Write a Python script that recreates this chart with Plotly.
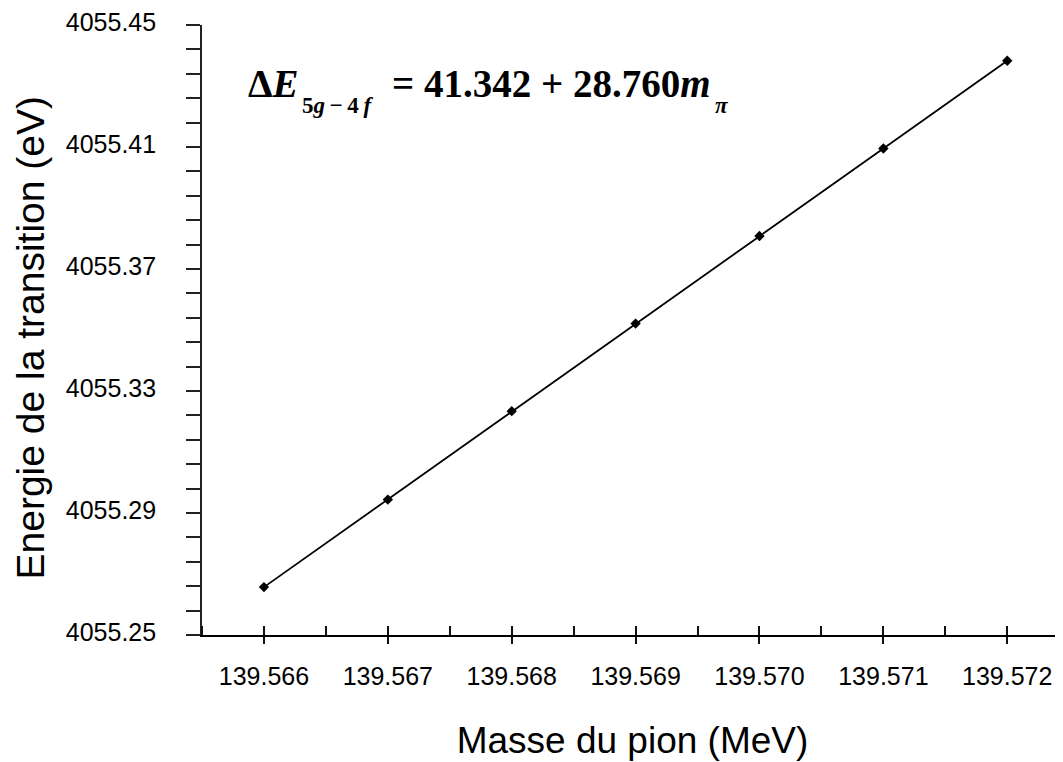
import plotly.graph_objects as go

# Data
masse = [139.566, 139.567, 139.568, 139.569, 139.570, 139.571, 139.572]
energie = [4055.2657, 4055.2944, 4055.3234, 4055.3521, 4055.3808, 4055.4095, 4055.4383]
x_ticks = [139.566, 139.567, 139.568, 139.569, 139.570, 139.571, 139.572]
x_labels = ["139.566", "139.567", "139.568", "139.569", "139.570", "139.571", "139.572"]
y_ticks = [4055.25, 4055.29, 4055.33, 4055.37, 4055.41, 4055.45]
y_labels = ["4055.25", "4055.29", "4055.33", "4055.37", "4055.41", "4055.45"]

x_range = [139.5655, 139.57245]
y_range = [4055.25, 4055.45]

# page body has an 8px margin: figure is offset by (8, 8)
OFF = 8
W, H = 1063 - OFF, 762 - OFF
L, R, T = 202 - OFF, 0, 22 - OFF
B = H - (635 - OFF)

fig = go.Figure()
fig.add_trace(go.Scatter(
    x=masse, y=energie, mode="lines+markers",
    line=dict(color="black", width=1.8),
    marker=dict(symbol="diamond", size=8, color="black"),
    showlegend=False, hoverinfo="x+y",
))

tickfont = dict(family="Liberation Sans, Arial, sans-serif", size=25, color="black")
titlefont = dict(family="Liberation Sans, Arial, sans-serif", size=37, color="black")

fig.update_layout(
    width=W, height=H,
    margin=dict(l=L, r=R, t=T, b=B, pad=0),
    paper_bgcolor="white", plot_bgcolor="white",
    xaxis=dict(
        range=x_range, tickmode="array", tickvals=x_ticks, ticktext=x_labels,
        ticks="outside", ticklen=7, tickwidth=1.5, tickcolor="#111",
        minor=dict(dtick=0.0005, tick0=139.5655, ticks="inside", ticklen=9,
                   tickwidth=1.5, tickcolor="#111", showgrid=False),
        showline=True, linecolor="black", linewidth=2.2,
        showgrid=False, zeroline=False, tickfont=tickfont,
        ticklabelstandoff=11, ticklabeloverflow="allow",
        title=dict(text="Masse du pion (MeV)", font=titlefont, standoff=38),
    ),
    yaxis=dict(
        range=y_range, tickmode="array", tickvals=y_ticks, ticktext=y_labels,
        ticks="outside", ticklen=14, tickwidth=1.5, tickcolor="#222",
        minor=dict(dtick=0.008, tick0=4055.25, ticks="outside", ticklen=14,
                   tickwidth=1.5, tickcolor="#222", showgrid=False),
        showline=True, linecolor="#222", linewidth=1.6,
        showgrid=False, zeroline=False, tickfont=tickfont,
        ticklabelstandoff=25, ticklabelshift=-3, ticklabeloverflow="allow",
    ),
    yaxis2=dict(
        range=y_range, overlaying="y", side="left", anchor="x",
        tickmode="array", tickvals=y_ticks, showticklabels=False,
        ticks="inside", ticklen=19, tickwidth=1.5, tickcolor="#222",
        minor=dict(dtick=0.008, tick0=4055.25, ticks="inside", ticklen=14,
                   tickwidth=1.5, tickcolor="#222", showgrid=False),
        showline=False, showgrid=False, zeroline=False,
    ),
    xaxis2=dict(
        range=x_range, overlaying="x", side="top", anchor="y",
        showline=True, linecolor="#8c8c8c", linewidth=1.6,
        ticks="", showticklabels=False, showgrid=False, zeroline=False,
    ),
)

def px(xp):
    return (xp - OFF - L) / (W - L - R)

def py(yp):
    return (H - B - (yp - OFF)) / (H - T - B)

# Y axis title (reference pixel centre ~ (28, 337))
fig.add_annotation(
    text="Energie de la transition (eV)", textangle=-90,
    xref="paper", yref="paper", x=px(30), y=py(337),
    xanchor="center", yanchor="middle", showarrow=False, borderpad=0,
    font=dict(family="Liberation Sans, Arial, sans-serif", size=39, color="black"),
)

# Equation annotation (pieces positioned in paper coordinates)
eqfont = dict(family="Liberation Serif, Times New Roman, serif", size=39, color="black")
subfont = dict(family="Liberation Serif, Times New Roman, serif", size=23, color="black")

pieces = [
    ("<b>Δ<i>E</i></b>", 247, 95, eqfont),
    ("<b>5<i>g</i>\u2009−\u20094<i>\u2009f</i></b>", 301, 111, subfont),
    ("<b>= 41.342 + 28.760<i>m</i></b>", 391, 95, eqfont),
    ("<b><i>π</i></b>", 714, 111, subfont),
]
for txt, xp, yb, f in pieces:
    fig.add_annotation(
        text=txt, xref="paper", yref="paper", x=px(xp), y=py(yb),
        xanchor="left", yanchor="bottom", showarrow=False, font=f,
        borderpad=0, yshift=-f["size"] * 0.22,
    )

fig.write_html("out.html")
